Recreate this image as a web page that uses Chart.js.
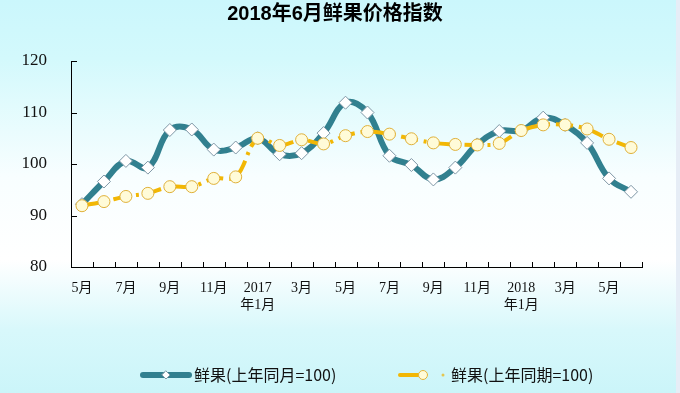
<!DOCTYPE html>
<html>
<head>
<meta charset="utf-8">
<script src="https://cdn.jsdelivr.net/npm/chart.js@4/dist/chart.umd.min.js"></script>
<style>
  html, body { margin: 0; padding: 0; }
  #wrap { width: 680px; height: 393px; }
</style>
</head>
<body>
<div id="wrap"><canvas id="fruitChart" width="680" height="393"></canvas></div>
<script>
// months 2016-05 .. 2018-06
var categories = ['5月','6月','7月','8月','9月','10月','11月','12月',['2017','年1月'],'2月','3月','4月','5月','6月','7月','8月','9月','10月','11月','12月',['2018','年1月'],'2月','3月','4月','5月','6月'];
var monthly = [92.2,96.6,100.6,99.3,106.6,106.7,102.8,103.2,105.0,101.9,102.1,106.0,111.9,110.0,101.6,99.8,97.0,99.3,103.8,106.4,106.5,109.0,107.6,104.1,97.2,94.6];
var cumulative = [91.9,92.7,93.7,94.3,95.6,95.6,97.2,97.5,105.0,103.6,104.7,103.9,105.5,106.3,105.8,104.9,104.1,103.8,103.7,104.0,106.5,107.6,107.6,106.8,104.8,103.2];
var yTicks = [80,90,100,110,120];
var seriesNames = ['鲜果(上年同月=100)','鲜果(上年同期=100)'];

var TEAL = '#31808f';
var GOLD = '#f2b705';
var numFont = '"Liberation Serif", "Noto Sans CJK SC", serif';

var bgPlugin = {
  id: 'bg',
  beforeDraw: function(chart){
    var c = chart.ctx, h = chart.height, w = chart.width;
    var g = c.createLinearGradient(0, 0, 0, h);
    g.addColorStop(0, '#cbf7fc');
    g.addColorStop(0.15, '#d3f9fc');
    g.addColorStop(0.45, '#f8feff');
    g.addColorStop(0.66, '#ffffff');
    g.addColorStop(0.84, '#d8f8fb');
    g.addColorStop(1, '#cbf5f9');
    c.save();
    c.fillStyle = g;
    c.fillRect(0, 0, w, h);
    c.fillStyle = '#e6edf6';
    c.fillRect(w - 4, 0, 4, h);
    c.restore();
  }
};

// inward tick marks on both axes
var ticksPlugin = {
  id: 'inTicks',
  afterDraw: function(chart){
    var c = chart.ctx, xs = chart.scales.x, ys = chart.scales.y, a = chart.chartArea;
    c.save();
    c.strokeStyle = '#000';
    c.lineWidth = 1;
    c.beginPath();
    for (var i = 0; i <= categories.length; i++) {
      var px = Math.round(xs.getPixelForValue(i - 0.5)) + 0.5;
      c.moveTo(px, a.bottom);
      c.lineTo(px, a.bottom - 5);
    }
    yTicks.forEach(function(v){
      var py = Math.round(ys.getPixelForValue(v)) + 0.5;
      c.moveTo(a.left, py);
      c.lineTo(a.left + 6, py);
    });
    c.stroke();
    c.restore();
  }
};

var legendPlugin = {
  id: 'lineLegend',
  afterDraw: function(chart){
    var c = chart.ctx, y = 375;
    c.save();
    c.font = '16px "Noto Sans CJK SC", sans-serif';
    c.textBaseline = 'middle';
    c.fillStyle = '#111';
    // monthly
    c.strokeStyle = TEAL; c.lineWidth = 6; c.lineCap = 'round';
    c.beginPath(); c.moveTo(143, y); c.lineTo(189, y); c.stroke();
    c.fillStyle = '#fff'; c.strokeStyle = '#7f97a6'; c.lineWidth = 1;
    c.beginPath(); c.moveTo(166, y - 4); c.lineTo(170, y); c.lineTo(166, y + 4); c.lineTo(162, y); c.closePath(); c.fill(); c.stroke();
    c.fillStyle = '#111';
    c.fillText(seriesNames[0], 194, y);
    // cumulative
    c.strokeStyle = GOLD; c.lineWidth = 4; c.lineCap = 'round';
    c.beginPath(); c.moveTo(400, y); c.lineTo(420, y); c.stroke();
    c.fillStyle = '#fffbd8'; c.strokeStyle = '#e4b43a'; c.lineWidth = 1;
    c.beginPath(); c.arc(423, y, 4.5, 0, Math.PI * 2); c.fill(); c.stroke();
    c.fillStyle = '#e4c650';
    c.beginPath(); c.arc(443, y, 1.5, 0, Math.PI * 2); c.fill();
    c.fillStyle = '#111';
    c.fillText(seriesNames[1], 451, y);
    c.restore();
  }
};

var ctx = document.getElementById('fruitChart').getContext('2d');
new Chart(ctx, {
  type: 'line',
  data: {
    labels: categories,
    datasets: [{
      label: seriesNames[1],
      data: cumulative,
      borderColor: GOLD,
      borderWidth: 4,
      borderDash: [17, 6, 3, 6],
      tension: 0.35,
      pointStyle: 'circle',
      pointRadius: 6,
      pointBackgroundColor: '#fffbd8',
      pointBorderColor: '#e0b13a',
      pointBorderWidth: 1,
      order: 1
    }, {
      label: seriesNames[0],
      data: monthly,
      borderColor: TEAL,
      borderWidth: 6,
      tension: 0.4,
      pointStyle: 'rectRot',
      pointRadius: 6.5,
      pointBackgroundColor: '#ffffff',
      pointBorderColor: '#7f97a6',
      pointBorderWidth: 1,
      order: 2
    }]
  },
  options: {
    responsive: false,
    animation: false,
    layout: { padding: { left: 0, right: 10, top: 0, bottom: 0 } },
    plugins: {
      legend: { display: false },
      tooltip: { enabled: false },
      title: {
        display: true,
        text: '2018年6月鲜果价格指数',
        color: '#000',
        font: { family: '"Liberation Sans", "Noto Sans CJK SC", sans-serif', size: 20, weight: 'bold' },
        padding: { top: 2, bottom: 35 }
      }
    },
    scales: {
      x: {
        offset: true,
        grid: { display: false },
        border: { display: true, color: '#000', width: 1 },
        afterFit: function(s){ s.height = 126; },
        ticks: {
          autoSkip: false,
          maxRotation: 0,
          padding: 5,
          color: '#111',
          font: { family: numFont, size: 14 },
          callback: function(v, i){ return i % 2 === 0 ? categories[i] : ''; }
        }
      },
      y: {
        min: 80,
        max: 120,
        afterFit: function(s){ s.width = 71; },
        grid: { display: false },
        border: { display: true, color: '#000', width: 1 },
        afterBuildTicks: function(s){ s.ticks = yTicks.map(function(v){ return { value: v }; }); },
        ticks: {
          padding: 16,
          color: '#111',
          font: { family: numFont, size: 17 }
        }
      },
      // empty spacer on the right so the title centres on the full page
      yRight: {
        position: 'right',
        min: 80,
        max: 120,
        afterFit: function(s){ s.width = 28; },
        grid: { display: false },
        border: { display: false },
        ticks: { display: false }
      }
    }
  },
  plugins: [bgPlugin, ticksPlugin, legendPlugin]
});
</script>
</body>
</html>
